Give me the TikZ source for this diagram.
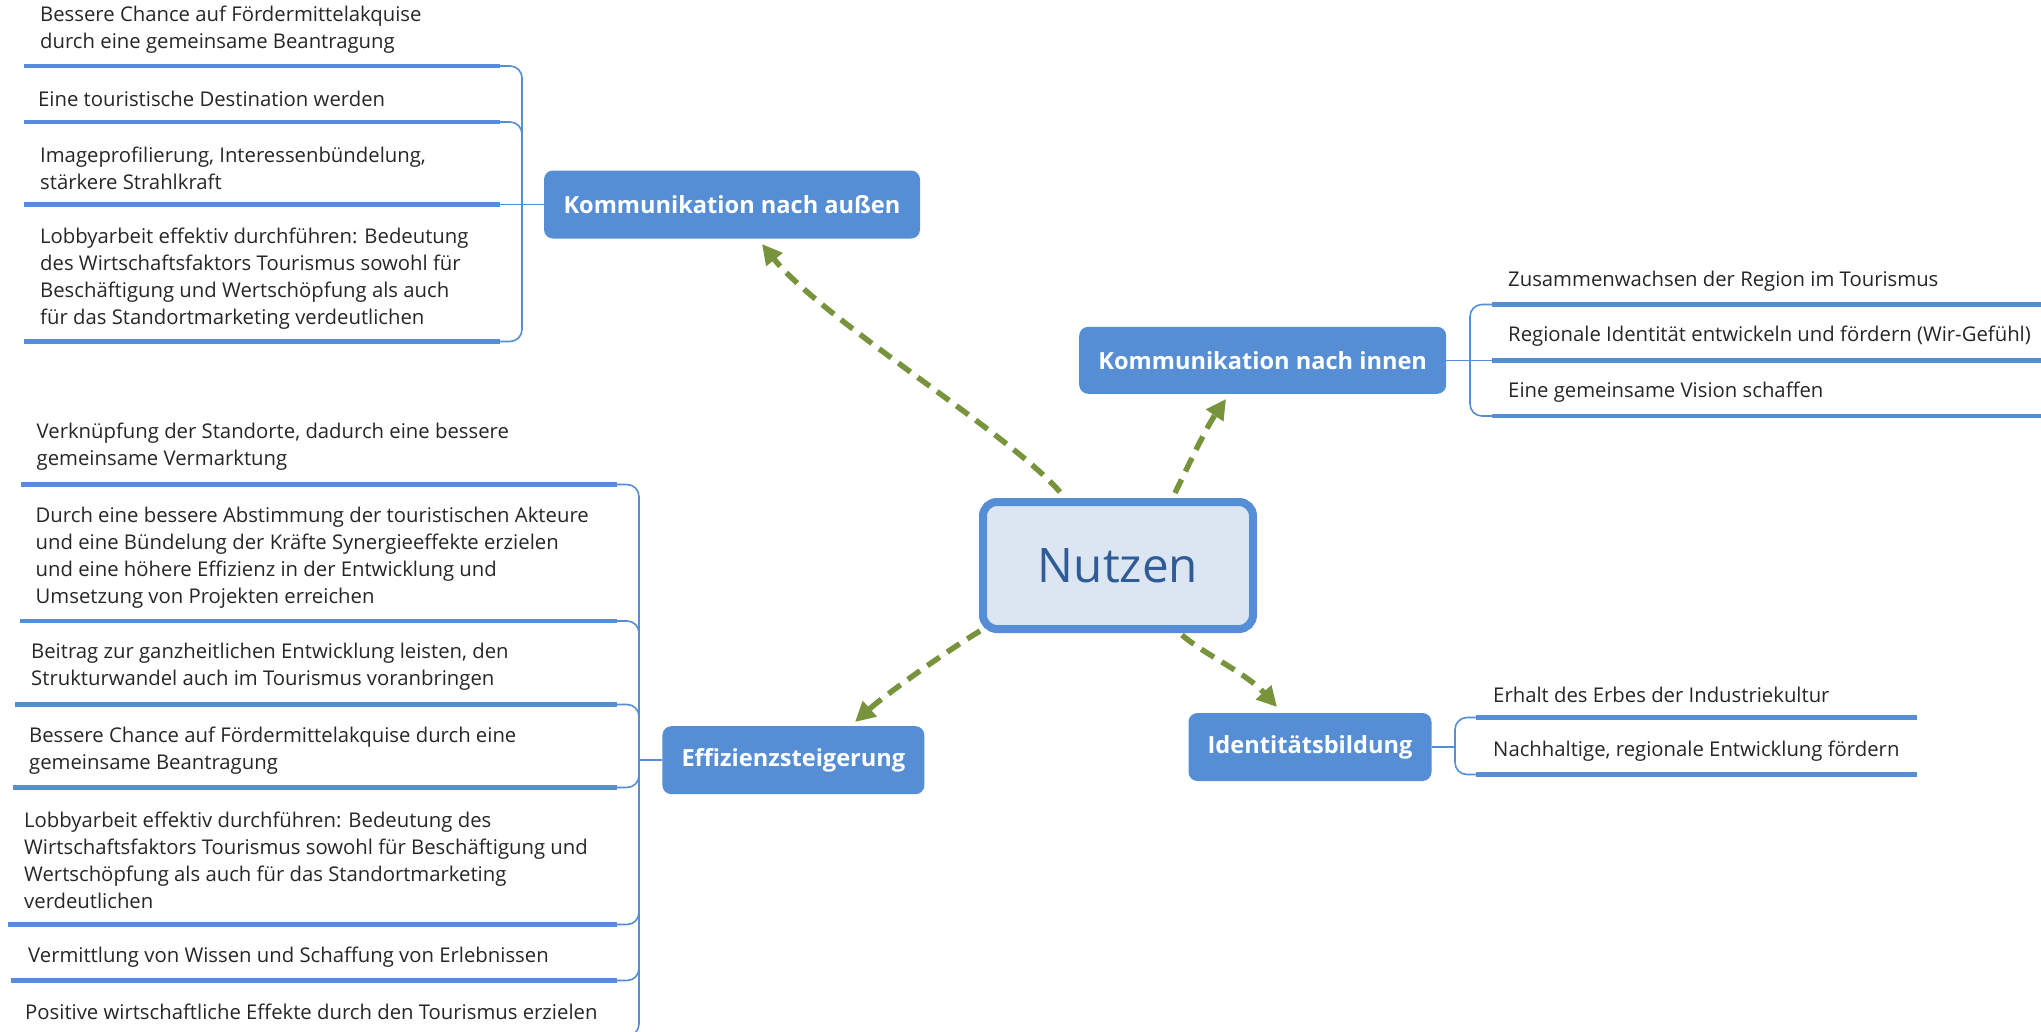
\documentclass[tikz,border=0pt]{standalone}
\usepackage{fontspec}
\setmainfont{Open Sans}
\usetikzlibrary{arrows.meta,calc}
\definecolor{boxblue}{RGB}{85,142,213}
\definecolor{nfill}{RGB}{220,230,242}
\definecolor{ntext}{RGB}{47,91,150}
\definecolor{agreen}{RGB}{119,147,60}
\definecolor{ltext}{RGB}{38,38,38}
\begin{document}
\begin{tikzpicture}[x=1pt,y=-1pt,
 topic/.style={fill=boxblue, rounded corners=9pt, text=white, font=\fontsize{23.6}{28}\selectfont\bfseries, inner sep=0pt},
 leaf/.style={anchor=west, align=left, text=ltext, font=\fontsize{20.3}{27}\selectfont, inner sep=0pt},
 uline/.style={draw=boxblue, line width=4.5pt},
 bracket/.style={draw=boxblue, line width=1.6pt, rounded corners=12pt},
 arr/.style={draw=agreen, line width=5.5pt, dash pattern=on 15pt off 9pt, -{Triangle[length=20pt,width=20pt]}}
]
\useasboundingbox (0,0) rectangle (2041,1031);
\clip (0,0) rectangle (2041,1031);

% central node
\node[draw=boxblue, line width=8pt, fill=nfill, rounded corners=14pt, minimum width=270pt, minimum height=127pt, text=ntext, font=\fontsize{47.6}{57}\selectfont] (nutzen) at (1118,565.5) {Nutzen};

% topics
\node[topic, minimum width=376pt, minimum height=68pt] (aussen) at (732,204.5) {Kommunikation nach außen};
\node[topic, minimum width=367pt, minimum height=67pt] (innen) at (1262.7,360.3) {Kommunikation nach innen};
\node[topic, minimum width=262pt, minimum height=68pt] (eff) at (793.4,760.2) {Effizienzsteigerung};
\node[topic, minimum width=243pt, minimum height=68pt] (ident) at (1310,747) {Identitätsbildung};

% ---- Kommunikation nach außen
\node[leaf] (a1) at (40,30) {Bessere Chance auf Fördermittelakquise\\durch eine gemeinsame Beantragung};
\node[leaf] (a2) at (38,99) {Eine touristische Destination werden};
\node[leaf] (a3) at (40,168.5) {Imageprofilierung, Interessenbündelung,\\stärkere Strahlkraft};
\node[leaf] (a4) at (40,279) {Lobbyarbeit effektiv durchführen: Bedeutung\\des Wirtschaftsfaktors Tourismus sowohl für\\Beschäftigung und Wertschöpfung als auch\\für das Standortmarketing verdeutlichen};
\foreach \y in {66,122,204.5,341.5} {
  \draw[uline] (24,\y) -- (500,\y);
}
\foreach \y in {66,122,341.5} {
  \draw[bracket] (500,\y) -| (522,204.5);
}
\draw[bracket] (500,204.5) -- (aussen.west);

% ---- Kommunikation nach innen
\node[leaf] (i1) at (1508,281.2) {Zusammenwachsen der Region im Tourismus};
\node[leaf] (i2) at (1508,336) {Regionale Identität entwickeln und fördern (Wir-Gefühl)};
\node[leaf] (i3) at (1508,392) {Eine gemeinsame Vision schaffen};
\foreach \y in {304.5,360.3,416} {
  \draw[uline] (1492,\y) -- (2050,\y);
}
\foreach \y in {304.5,416} {
  \draw[bracket] (1492,\y) -| (1470,360.3);
}
\draw[bracket] (innen.east) -- (1492,360.3);

% ---- Identitätsbildung
\node[leaf] (d1) at (1493,695) {Erhalt des Erbes der Industriekultur};
\node[leaf] (d2) at (1493,751) {Nachhaltige, regionale Entwicklung fördern};
\foreach \y in {717.5,774.5} {
  \draw[uline] (1476,\y) -- (1917,\y);
  \draw[bracket] (1476,\y) -| (1455,747);
}
\draw[bracket] (ident.east) -- (1455,747);

% ---- Effizienzsteigerung
\node[leaf] (e1) at (36.5,447) {Verknüpfung der Standorte, dadurch eine bessere\\gemeinsame Vermarktung};
\node[leaf] (e2) at (35.5,558) {Durch eine bessere Abstimmung der touristischen Akteure\\und eine Bündelung der Kräfte Synergieeffekte erzielen\\und eine höhere Effizienz in der Entwicklung und\\Umsetzung von Projekten erreichen};
\node[leaf] (e3) at (31,667) {Beitrag zur ganzheitlichen Entwicklung leisten, den\\Strukturwandel auch im Tourismus voranbringen};
\node[leaf] (e4) at (29,750.5) {Bessere Chance auf Fördermittelakquise durch eine\\gemeinsame Beantragung};
\node[leaf] (e5) at (24,860.5) {Lobbyarbeit effektiv durchführen: Bedeutung des\\Wirtschaftsfaktors Tourismus sowohl für Beschäftigung und\\Wertschöpfung als auch für das Standortmarketing\\verdeutlichen};
\node[leaf] (e6) at (28,957) {Vermittlung von Wissen und Schaffung von Erlebnissen};
\node[leaf] (e7) at (25,1011.5) {Positive wirtschaftliche Effekte durch den Tourismus erzielen};
\foreach \y/\xs in {484.5/21,621/20,704.5/15,787.5/13,924.5/8,980.5/11,1036/11} {
  \draw[uline] (\xs,\y) -- (617,\y);
  \draw[bracket] (617,\y) -| (639,760.2);
}
\draw[bracket] (639,760.2) -- (eff.west);

% ---- arrows
\coordinate (s1) at (1060,492);  \coordinate (t1) at (762,244);
\coordinate (s2) at (1175,493);  \coordinate (t2) at (1226,399);
\coordinate (s3) at (980,631);   \coordinate (t3) at (855,722);
\coordinate (s4) at (1182,635);  \coordinate (t4) at (1277,707);
\draw[arr] (s1) .. controls (1010,434) and (822,319) .. (t1);
\draw[arr] (s2) .. controls (1190,462) and (1206,428) .. (t2);
\draw[arr] (s3) .. controls (945,652) and (885,695) .. (t3);
\draw[arr] (s4) .. controls (1205,655) and (1245,672) .. (t4);
\end{tikzpicture}
\end{document}
